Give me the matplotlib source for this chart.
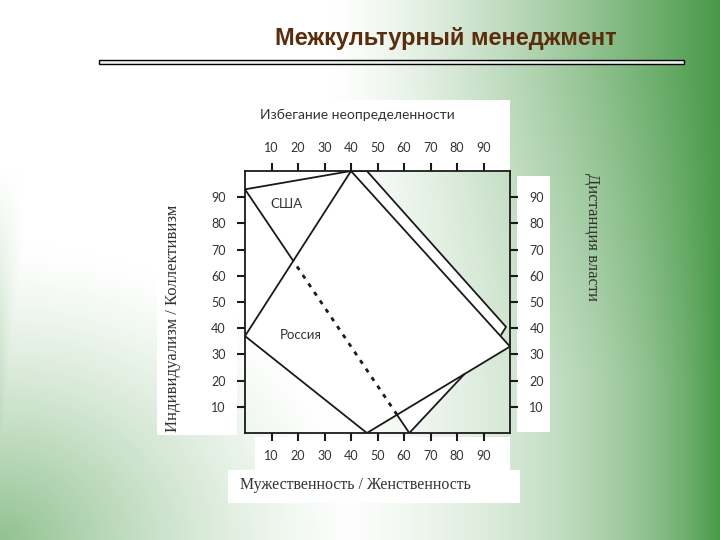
import numpy as np
import matplotlib
matplotlib.use("Agg")
import matplotlib.pyplot as plt
from matplotlib.patches import Rectangle, Polygon

# ------------------------------------------------------------------
# Data (axes run 0..100 on both directions)
# ------------------------------------------------------------------
ticks = [10, 20, 30, 40, 50, 60, 70, 80, 90]

russia_x = [40, 100, 46, 0]
russia_y = [100, 33, 0, 37]

usa_x = [0, 40, 46, 98.5, 96.6, 62]
usa_y = [93, 100, 100, 40.5, 37.4, 0]

title = "Межкультурный менеджмент"
top_label = "Избегание неопределенности"
left_label = "Индивидуализм / Коллективизм"
right_label = "Дистанция власти"
bottom_label = "Мужественность / Женственность"

W, H = 720, 540
SANS = ["Lato", "DejaVu Sans"]
SERIF = ["Liberation Serif", "DejaVu Serif"]


def fx(px):
    return px / W


def fy(py):
    return 1 - py / H


def intersect(p1, p2, q1, q2):
    """Intersection point of lines p1-p2 and q1-q2."""
    p1, p2, q1, q2 = map(np.asarray, (p1, p2, q1, q2))
    d1, d2 = p2 - p1, q2 - q1
    den = d1[0] * d2[1] - d1[1] * d2[0]
    t = ((q1[0] - p1[0]) * d2[1] - (q1[1] - p1[1]) * d2[0]) / den
    return p1 + t * d1


fig = plt.figure(figsize=(7.2, 5.4), dpi=100)

# ------------------------------------------------------------------
# Slide background: white -> green gradient
# ------------------------------------------------------------------
bg = fig.add_axes([0, 0, 1, 1])
yy, xx = np.mgrid[0:H, 0:W].astype(float)
u = xx / W
t_right = np.clip((xx - 330) / 390, 0, 1) ** 1.3
t_right *= 1 - 0.42 * np.clip((yy - 80) / 300, 0, 1) * (1 - u ** 6)
dist_bl = np.hypot(xx / 1.1, (H - yy) / 0.9)
t_bl = np.clip(1 - dist_bl / 330, 0, 1) ** 1.3 * 0.6
t_left = np.clip(1 - xx / 25, 0, 1) * np.clip((yy - 170) / 250, 0, 1) * 0.35
t = np.maximum(np.maximum(t_right, t_bl), t_left)
green = np.array([0.28, 0.60, 0.28])
img = 1 - t[..., None] * (1 - green)
bg.imshow(img, extent=[0, W, H, 0], aspect="auto")
bg.set_xlim(0, W)
bg.set_ylim(H, 0)
bg.axis("off")

# title and the double rule under it
fig.text(fx(446), fy(38), title, ha="center", va="center", fontsize=17,
         fontweight="bold", color="#5a2d0c", family=["Liberation Sans", "DejaVu Sans"])
bg.add_patch(Rectangle((99, 60), 585, 4, facecolor="#eef3ee",
                       edgecolor="black", lw=1.0))

# white panels the original chart picture sits on
for (x0, y0, x1, y1) in [(246, 100, 510, 172), (157, 168, 237, 435),
                         (517, 176, 550, 432), (255, 437, 510, 470),
                         (228, 470, 520, 503)]:
    bg.add_patch(Rectangle((x0, y0), x1 - x0, y1 - y0, facecolor="white",
                           edgecolor="none"))

# ------------------------------------------------------------------
# Chart
# ------------------------------------------------------------------
ax = fig.add_axes([fx(245), fy(433), 265 / W, 262 / H])
ax.set_facecolor("none")
ax.set_xlim(0, 100)
ax.set_ylim(0, 100)

ax.add_patch(Polygon(np.column_stack([russia_x, russia_y]), closed=True,
                     facecolor="white", edgecolor="none", zorder=1))
ax.add_patch(Polygon(np.column_stack([usa_x, usa_y]), closed=True,
                     facecolor="white", edgecolor="none", zorder=1))

line_kw = dict(color="#1a1a1a", lw=1.3, zorder=3, solid_capstyle="round")

# Russia outline
ax.plot(russia_x + russia_x[:1], russia_y + russia_y[:1], **line_kw)

# USA outline: upper part solid
ax.plot(usa_x[:5], usa_y[:5], **line_kw)

ru = list(zip(russia_x, russia_y))
us = list(zip(usa_x, usa_y))

# lower-right USA edge: only the part outside Russia is drawn
p = intersect(us[4], us[5], ru[1], ru[2])
ax.plot([p[0], usa_x[5]], [p[1], usa_y[5]], **line_kw)

# left USA edge: solid outside Russia, dotted inside
a = intersect(us[5], us[0], ru[1], ru[2])
b = intersect(us[5], us[0], ru[3], ru[0])
ax.plot([usa_x[5], a[0]], [usa_y[5], a[1]], **line_kw)
ax.plot([a[0], b[0]], [a[1], b[1]], color="#1a1a1a", lw=2.0,
        linestyle=(0, (1.5, 2.2)), zorder=3)
ax.plot([b[0], usa_x[0]], [b[1], usa_y[0]], **line_kw)

ax.text(15.5, 87.5, "США", ha="center", va="center", fontsize=9.5,
        color="#333333", family=SANS, zorder=4)
ax.text(21, 37.5, "Россия", ha="center", va="center", fontsize=9.5,
        color="#333333", family=SANS, zorder=4)

for s in ax.spines.values():
    s.set_linewidth(1.3)
    s.set_color("#1a1a1a")
    s.set_zorder(5)

ax.set_xticks(ticks)
ax.set_yticks(ticks)
ax.tick_params(axis="both", direction="out", length=6, width=1.5,
               color="#1a1a1a", labelsize=9, labelcolor="#333333")
ax.tick_params(axis="x", top=True, labeltop=True, bottom=True,
               labelbottom=True, pad=6)
ax.tick_params(axis="y", left=True, labelleft=True, right=True,
               labelright=True, pad=8)
for tk in ax.xaxis.get_major_ticks() + ax.yaxis.get_major_ticks():
    tk.label1.set_family(SANS)
    tk.label2.set_family(SANS)

# axis titles
fig.text(fx(260), fy(115), top_label, ha="left", va="center", fontsize=10,
         color="#333333", family=SANS)
fig.text(fx(173), fy(318), left_label, ha="center", va="center", fontsize=12,
         rotation=90, color="#333333", family=SERIF)
fig.text(fx(592), fy(237), right_label, ha="center", va="center", fontsize=12,
         rotation=270, color="#333333", family=SERIF)
fig.text(fx(240), fy(485), bottom_label, ha="left", va="center", fontsize=11.4,
         color="#333333", family=SERIF)

fig.savefig("out.png", dpi=100)
